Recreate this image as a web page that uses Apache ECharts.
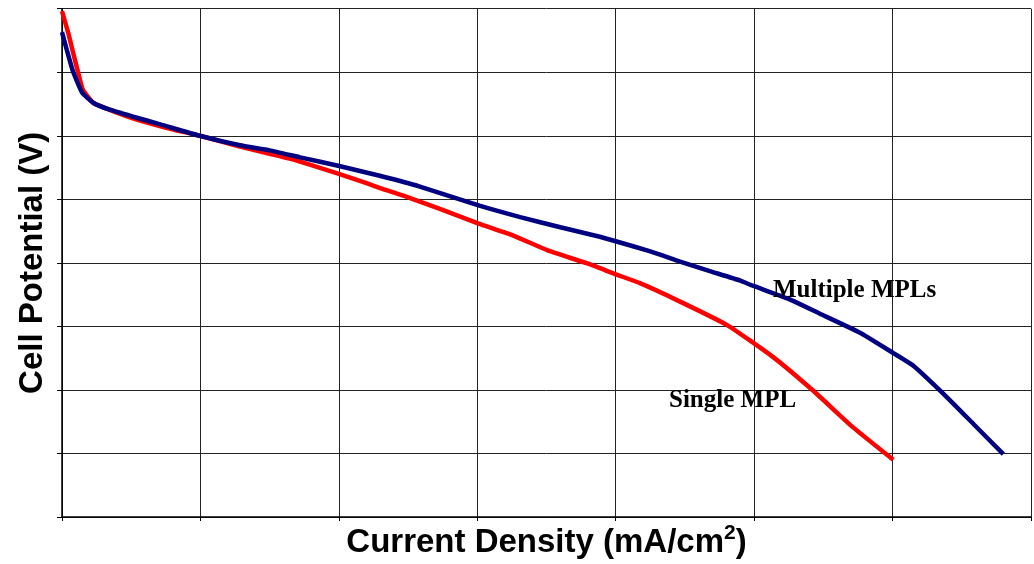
<!DOCTYPE html>
<html>
<head>
<meta charset="utf-8">
<script src="https://cdn.jsdelivr.net/npm/echarts@6/dist/echarts.min.js"></script>
<style>
  html, body { margin: 0; padding: 0; background: #fff; }
  #chart { width: 1034px; height: 564px; }
</style>
</head>
<body>
<div id="chart"></div>
<script>
// Polarization curves: current density (mA/cm2) vs. cell potential (V)
const singleMplX = [0, 9, 16, 23, 30, 45, 59, 98, 149, 199, 257, 329, 400, 441, 464, 498, 546, 601, 652, 701, 759, 800, 835, 893, 961, 1027, 1085, 1143, 1201];
const singleMplY = [0.996, 0.962, 0.931, 0.901, 0.873, 0.852, 0.845, 0.829, 0.813, 0.800, 0.783, 0.764, 0.740, 0.725, 0.716, 0.704, 0.685, 0.662, 0.643, 0.620, 0.599, 0.582, 0.568, 0.539, 0.502, 0.452, 0.399, 0.341, 0.290];

const multiMplX = [0, 7, 16, 29, 45, 69, 103, 142, 199, 257, 300, 344, 402, 459, 517, 603, 662, 720, 777, 800, 850, 893, 936, 980, 998, 1048, 1095, 1153, 1201, 1230, 1279, 1319, 1360];
const multiMplY = [0.963, 0.935, 0.901, 0.868, 0.852, 0.841, 0.830, 0.818, 0.800, 0.785, 0.777, 0.766, 0.752, 0.737, 0.720, 0.690, 0.672, 0.656, 0.641, 0.634, 0.618, 0.602, 0.587, 0.572, 0.564, 0.544, 0.520, 0.490, 0.458, 0.438, 0.388, 0.344, 0.299];

const seriesNames = ['Single MPL', 'Multiple MPLs'];
const xTitle = 'Current Density (mA/cm';
const yTitle = 'Cell Potential (V)';

const pairs = (xs, ys) => xs.map((x, i) => [x, ys[i]]);

const chart = echarts.init(document.getElementById('chart'), null, { renderer: 'canvas' });

const gridLine = { show: true, lineStyle: { color: '#222', width: 1 } };
const axisLine = { show: true, lineStyle: { color: '#000', width: 1.5 } };
const sansBold = 'Liberation Sans, Arial, sans-serif';

chart.setOption({
  animation: false,
  backgroundColor: '#fff',
  grid: { left: 62, top: 8.7, right: 3, bottom: 44, containLabel: false },
  xAxis: {
    type: 'value',
    min: 0, max: 1400, interval: 200,
    axisLine: axisLine,
    axisTick: { show: true, inside: false, length: 4, lineStyle: { color: '#000' } },
    axisLabel: { show: false },
    splitLine: gridLine,
    name: '{a|' + xTitle + '}{s|2}{a|)}',
    nameLocation: 'middle',
    nameGap: 6,
    nameTextStyle: {
      verticalAlign: 'top',
      rich: {
        a: { fontFamily: sansBold, fontWeight: 'bold', fontSize: 33, color: '#000', lineHeight: 36, verticalAlign: 'bottom' },
        s: { fontFamily: sansBold, fontWeight: 'bold', fontSize: 21, color: '#000', lineHeight: 36, verticalAlign: 'top' }
      }
    }
  },
  yAxis: {
    type: 'value',
    min: 0.2, max: 1.0, interval: 0.1,
    axisLine: axisLine,
    axisTick: { show: true, inside: false, length: 5, lineStyle: { color: '#000' } },
    axisLabel: { show: false },
    splitLine: gridLine,
    name: yTitle,
    nameLocation: 'middle',
    nameGap: 13,
    nameTextStyle: {
      fontFamily: sansBold,
      fontWeight: 'bold',
      fontSize: 33,
      color: '#000'
    }
  },
  series: [
    {
      name: seriesNames[0],
      type: 'line',
      data: pairs(singleMplX, singleMplY),
      showSymbol: false,
      smooth: 0.15,
      lineStyle: { color: '#ff0000', width: 4.5 },
      z: 2
    },
    {
      name: seriesNames[1],
      type: 'line',
      data: pairs(multiMplX, multiMplY),
      showSymbol: false,
      smooth: 0.15,
      lineStyle: { color: '#000080', width: 4.5 },
      z: 3
    }
  ],
  graphic: [
    {
      type: 'text', left: 773, top: 278, z: 10,
      style: { text: seriesNames[1], font: 'bold 25px "Liberation Serif", "Times New Roman", serif', fill: '#000' }
    },
    {
      type: 'text', left: 669, top: 388, z: 10,
      style: { text: seriesNames[0], font: 'bold 25px "Liberation Serif", "Times New Roman", serif', fill: '#000' }
    }
  ]
});
</script>
</body>
</html>
